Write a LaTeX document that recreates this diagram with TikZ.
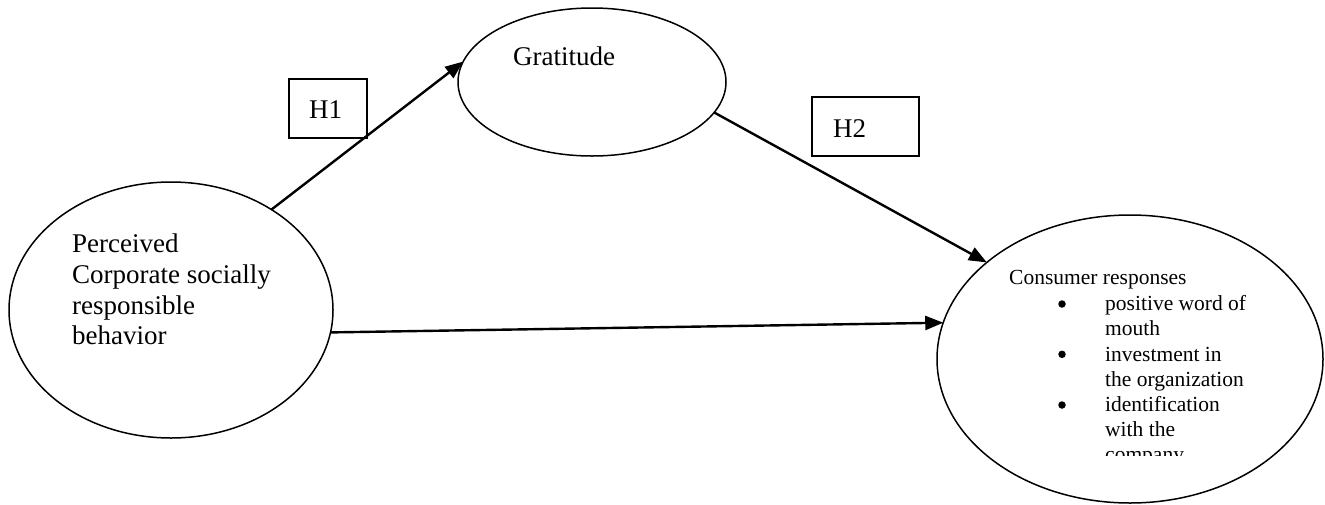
\documentclass[tikz,border=0pt]{standalone}
\usepackage{fontspec}
\setmainfont{Liberation Serif}
\usetikzlibrary{shapes.geometric,arrows.meta}
\begin{document}
\begin{tikzpicture}[x=1pt,y=-1pt,
 ell/.style={ellipse,draw,line width=1.5pt,inner sep=0pt,outer sep=0pt},
 hbox/.style={draw,line width=1.5pt,inner sep=0pt,outer sep=0pt},
 big/.style={font=\fontsize{27}{31}\selectfont,inner sep=0pt,anchor=base west},
 small/.style={font=\fontsize{21.5}{25}\selectfont,inner sep=0pt,anchor=base west},
 arr/.style={line width=2.4pt,-{Triangle[length=18pt,width=14pt]}},
 dot/.style={circle,fill,inner sep=0pt,minimum size=7.5pt}]
\useasboundingbox (0,0) rectangle (1325,504);
% ellipses
\node[ell,minimum width=324pt,minimum height=256pt] (L) at (171,310) {};
\node[ell,minimum width=268pt,minimum height=148pt] (G) at (592,82) {};
\node[ell,minimum width=386pt,minimum height=288pt] (R) at (1130,359) {};
% hypothesis boxes
\node[hbox,minimum width=78pt,minimum height=59pt] (h1box) at (328,108.5) {};
\node[hbox,minimum width=107pt,minimum height=59pt] (h2box) at (865.5,126.5) {};
\node[big] (h1t) at (309,118) {H1};
\node[big] (h2t) at (833,137) {H2};
% texts
\node[big] (gt) at (513,65) {Gratitude};
\node[big] (p1) at (72,252.5) {Perceived};
\node[big] (p2) at (72,283.3) {Corporate socially};
\node[big] (p3) at (72,314.1) {responsible};
\node[big] (p4) at (72,344.9) {behavior};
\node[small] (c0) at (1009,284) {Consumer responses};
\node[dot] (b1) at (1062,304) {};
\node[dot] (b2) at (1062,354.3) {};
\node[dot] (b3) at (1062,405) {};
\node[small] (c1) at (1105,310.7) {positive word of};
\node[small] (c2) at (1105,335.8) {mouth};
\node[small] (c3) at (1105,361) {investment in};
\node[small] (c4) at (1105,386) {the organization};
\node[small] (c5) at (1105,411.5) {identification};
\node[small] (c6) at (1105,436.5) {with the};
\begin{scope}
\clip (1095,440) rectangle (1270,455);
\node[small] (c7) at (1105,461.5) {company};
\end{scope}
% connectors
\draw[arr] (L.45) -- (G.171);
\draw[arr] (G.-14) -- (R.146);
\draw[arr] (L.-8) -- (R.169);
\end{tikzpicture}
\end{document}
